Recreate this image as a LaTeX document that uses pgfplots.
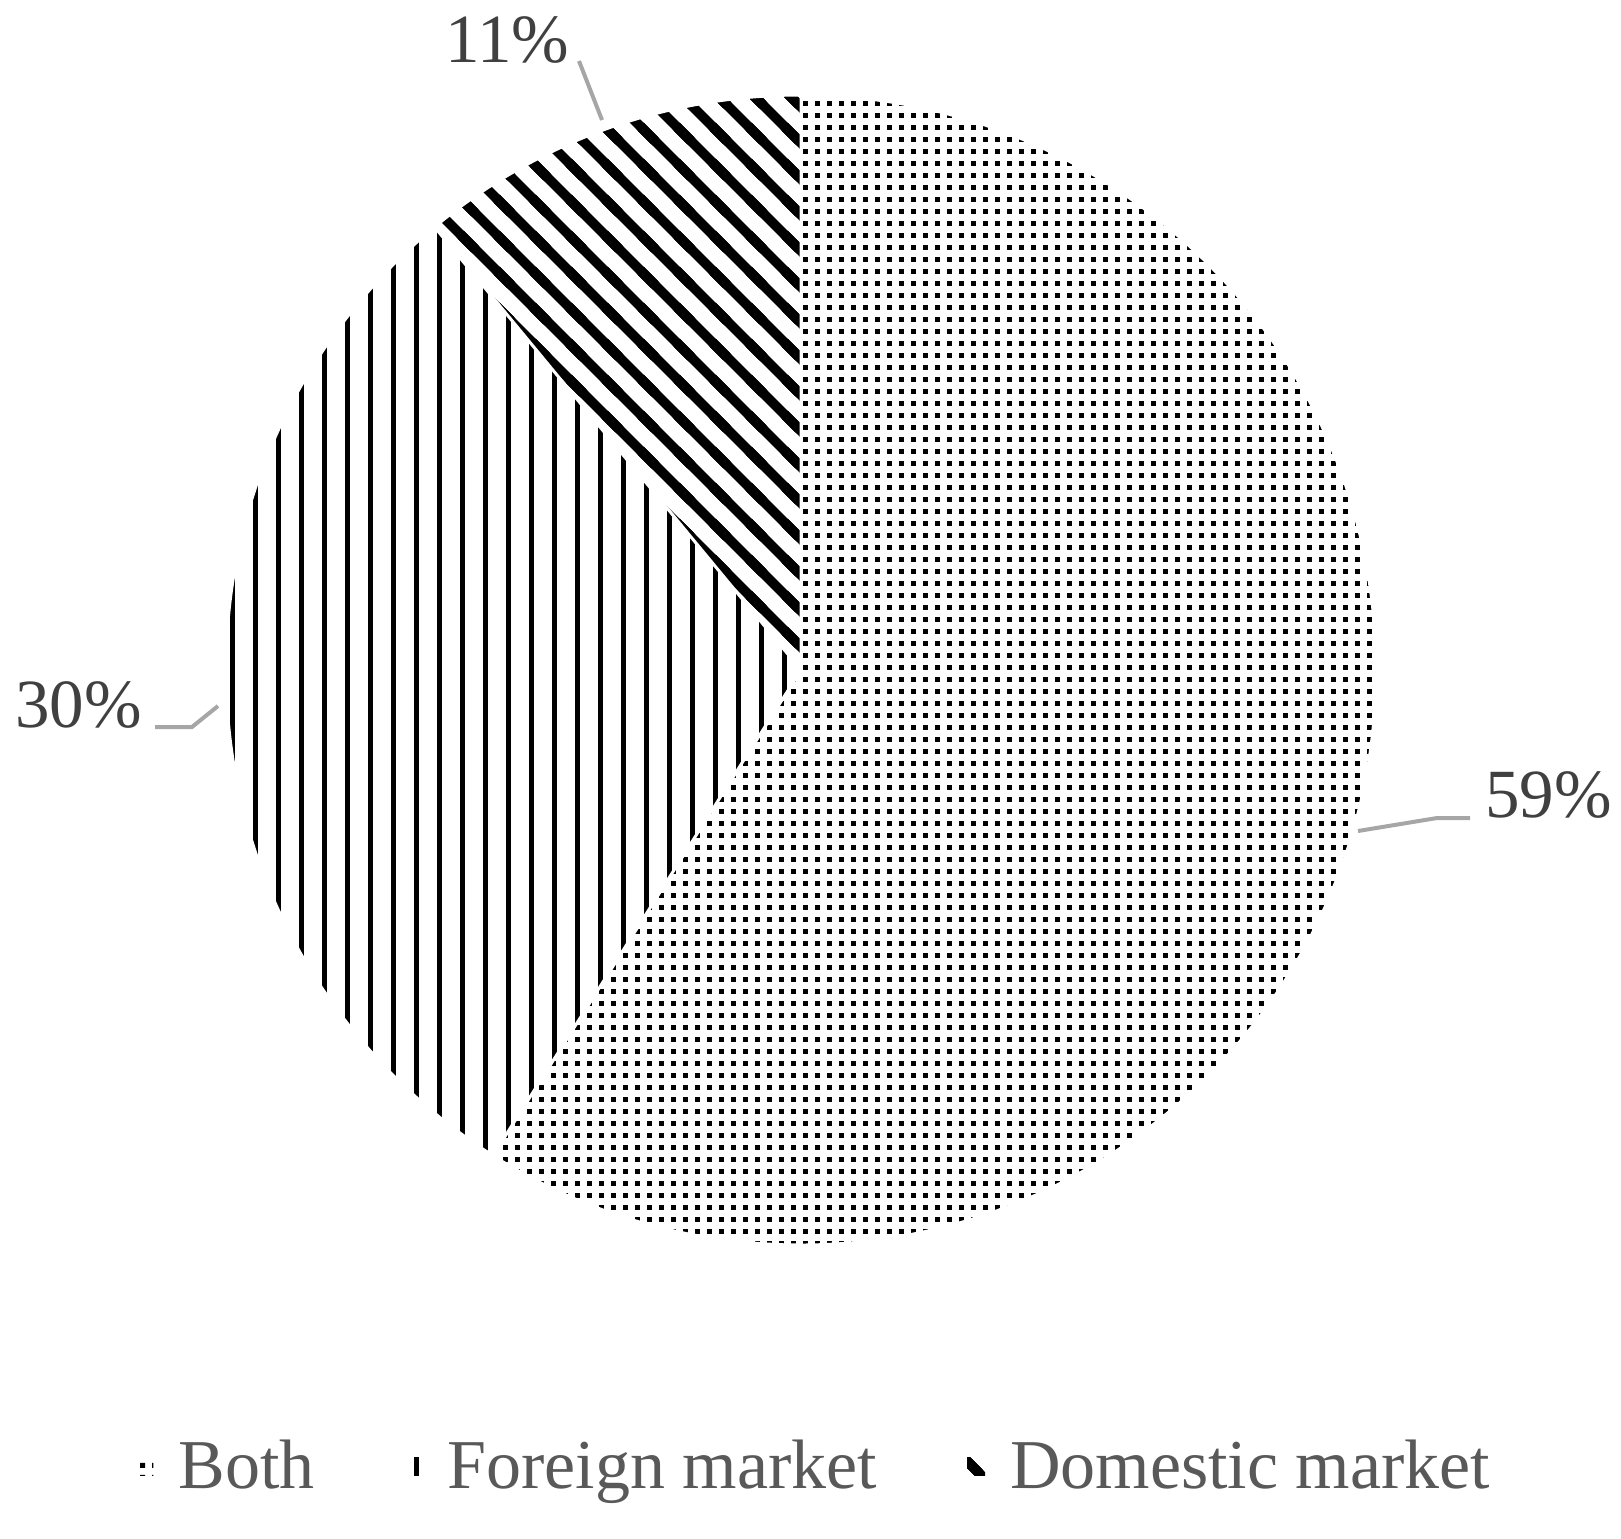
\documentclass[border=0pt]{standalone}
\usepackage{fontspec}
\setmainfont{Liberation Serif}
\usepackage{pgfplots}
\usepackage{pgfplotstable}
\pgfplotsset{compat=1.18}
\usetikzlibrary{patterns}

\definecolor{labelgray}{HTML}{404040}
\definecolor{legendgray}{HTML}{595959}
\definecolor{leadergray}{HTML}{A6A6A6}

% fill patterns (1px = 0.5pt)
\pgfdeclarepatternformonly{bothdots}{\pgfpointorigin}{\pgfqpoint{5.85pt}{5.85pt}}{\pgfqpoint{5.85pt}{5.85pt}}{%
  \pgfpathrectangle{\pgfpointorigin}{\pgfqpoint{2.5pt}{2.5pt}}\pgfusepath{fill}}
\pgfdeclarepatternformonly{vlines}{\pgfqpoint{0pt}{-1pt}}{\pgfqpoint{11.5pt}{13pt}}{\pgfqpoint{11.5pt}{12pt}}{%
  \pgfpathrectangle{\pgfqpoint{0pt}{-1pt}}{\pgfqpoint{2.6pt}{14pt}}\pgfusepath{fill}}
\pgfdeclarepatternformonly{nwstripes}{\pgfqpoint{-5pt}{-5pt}}{\pgfqpoint{23pt}{23pt}}{\pgfqpoint{18pt}{18pt}}{%
  \pgfsetlinewidth{4.8pt}%
  \pgfpathmoveto{\pgfqpoint{-4pt}{22pt}}\pgfpathlineto{\pgfqpoint{22pt}{-4pt}}%
  \pgfpathmoveto{\pgfqpoint{-4pt}{4pt}}\pgfpathlineto{\pgfqpoint{4pt}{-4pt}}%
  \pgfpathmoveto{\pgfqpoint{14pt}{22pt}}\pgfpathlineto{\pgfqpoint{22pt}{14pt}}%
  \pgfusepath{stroke}}

\pgfplotstableread{
label value
Both 59
Foreign 30
Domestic 11
}\piedata

% slice angles, clockwise from the top
\pgfplotstablegetelem{0}{value}\of\piedata \pgfmathsetmacro\vA{\pgfplotsretval}
\pgfplotstablegetelem{1}{value}\of\piedata \pgfmathsetmacro\vB{\pgfplotsretval}
\pgfplotstablegetelem{2}{value}\of\piedata \pgfmathsetmacro\vC{\pgfplotsretval}
\pgfmathsetmacro\aA{90}
\pgfmathsetmacro\aB{\aA-3.6*\vA}
\pgfmathsetmacro\aC{\aB-3.6*\vB}
\pgfmathsetmacro\aD{\aC-3.6*\vC}
\def\R{287.5pt}

\pgfplotsset{piemark/.style={legend image code/.code={\path[draw=none, pattern=#1] (0pt,-4.5pt) rectangle (9pt,4.5pt);}}}

\begin{document}
\begin{tikzpicture}
\begin{axis}[
  scale only axis, width=810.5pt, height=769pt,
  xmin=0, xmax=1621, ymin=0, ymax=1538, y dir=reverse,
  hide axis, clip=false,
  legend columns=3,
  legend style={at={(axis cs:135,1466)}, anchor=west, draw=none, fill=none,
    inner sep=0pt, font=\fontsize{35pt}{41pt}\selectfont, text=legendgray,
    nodes={inner sep=0pt},
    /tikz/every odd column/.append style={column sep=12.5pt},
    /tikz/every even column/.append style={column sep=45pt},
    /tikz/column 4/.append style={column sep=48pt}},
]
\path (axis cs:0,0) rectangle (axis cs:1621,1538);

\coordinate (C) at (axis cs:801,670);
\fill[pattern=bothdots] (C) -- ++(\aA:\R) arc[start angle=\aA, end angle=\aB, radius=\R] -- cycle;
\fill[pattern=vlines] (C) -- ++(\aB:\R) arc[start angle=\aB, end angle=\aC, radius=\R] -- cycle;
\fill[pattern=nwstripes] (C) -- ++(\aC:\R) arc[start angle=\aC, end angle=\aD, radius=\R] -- cycle;
\draw[white, line width=1.5pt] (C) -- ++(\aA:\R) (C) -- ++(\aB:\R) (C) -- ++(\aC:\R);
\draw[white, line width=1.5pt] (C) circle[radius=\R];

% leader lines
\addplot[leadergray, line width=2pt, forget plot] coordinates {(1358,831) (1437,818) (1470,818)};
\addplot[leadergray, line width=2pt, forget plot] coordinates {(155,727) (192,727) (218,706)};
\addplot[leadergray, line width=2pt, forget plot] coordinates {(579,61) (602,120)};

\begin{scope}[every node/.style={inner sep=0pt, anchor=base west, text=labelgray,
    font=\fontsize{34.5pt}{41pt}\selectfont}]
\node at (axis cs:1485,817) {59\%};
\node at (axis cs:15,727) {30\%};
\node at (axis cs:445,62) {11\%};
\end{scope}

\addlegendimage{piemark=bothdots}
\addlegendentry{Both}
\addlegendimage{piemark=vlines}
\addlegendentry{Foreign market}
\addlegendimage{piemark=nwstripes}
\addlegendentry{Domestic market}
\end{axis}
\end{tikzpicture}
\end{document}
